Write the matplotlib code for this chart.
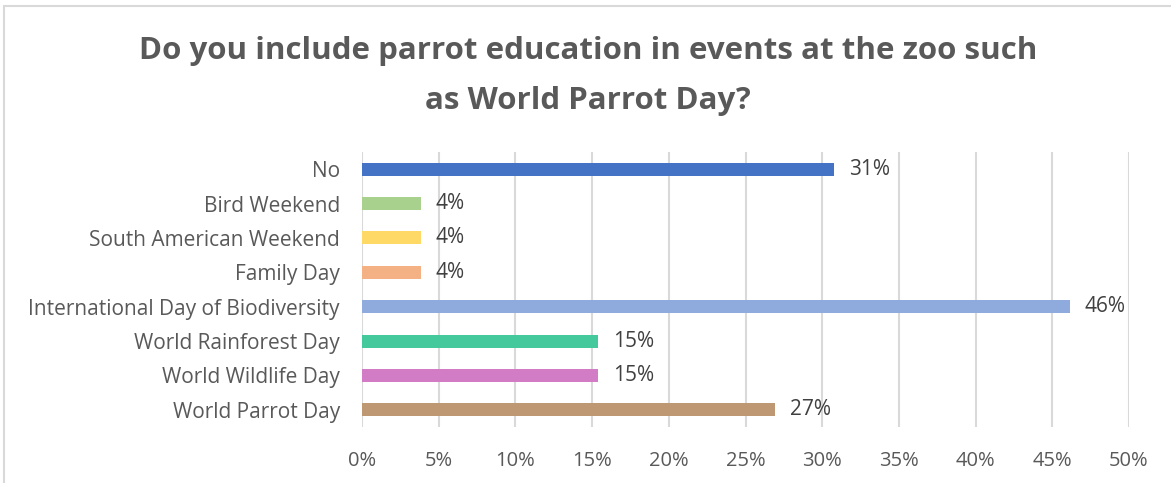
import matplotlib
matplotlib.use("Agg")
import matplotlib.pyplot as plt
from matplotlib.patches import Rectangle

categories = ["World Parrot Day", "World Wildlife Day", "World Rainforest Day",
              "International Day of Biodiversity", "Family Day",
              "South American Weekend", "Bird Weekend", "No"]
values = [7/26, 4/26, 4/26, 12/26, 1/26, 1/26, 1/26, 8/26]
labels = ["27%", "15%", "15%", "46%", "4%", "4%", "4%", "31%"]
colors = ["#BE9872", "#D27CC6", "#43C99B", "#8FAADC", "#F4B183",
          "#FFD966", "#A9D18E", "#4472C4"]
xticks = [0, 0.05, 0.10, 0.15, 0.20, 0.25, 0.30, 0.35, 0.40, 0.45, 0.50]
xticklabels = ["0%", "5%", "10%", "15%", "20%", "25%", "30%", "35%", "40%", "45%", "50%"]
title = "Do you include parrot education in events at the zoo such\nas World Parrot Day?"

plt.rcParams['font.family'] = ['Open Sans', 'DejaVu Sans']

W, H = 1171, 483
fig = plt.figure(figsize=(W/100, H/100), dpi=100)
fig.patch.set_facecolor("white")
# chart border (left and top visible)
fig.add_artist(Rectangle((4/W, -0.1), 1.2, 1 - 6/H + 0.1, transform=fig.transFigure,
                         fill=False, edgecolor="#D9D9D9", linewidth=1.5))

ax = fig.add_axes([362/W, 1 - 427/H, (1129-362)/W, (427-152)/H])
ypos = list(range(len(categories)))
ax.barh(ypos, values, height=0.38, color=colors, zorder=3)
ax.set_ylim(-0.5, len(categories) - 0.5)
ax.set_xlim(0, 0.5)
ax.set_xticks(xticks)
ax.set_xticklabels(xticklabels)
ax.set_yticks(ypos)
ax.set_yticklabels(categories)
ax.tick_params(axis='x', length=0, colors="#595959", labelsize=14.5, pad=17)
ax.tick_params(axis='y', length=0, colors="#595959", labelsize=15, pad=16)
for s in ax.spines.values():
    s.set_visible(False)
ax.grid(axis='x', color="#D9D9D9", linewidth=1.5, zorder=0)
ax.set_axisbelow(True)

for y, v, lab in zip(ypos, values, labels):
    ax.text(v + 0.0095, y, lab, va='center', ha='left', fontsize=15, color="#404040")

fig.text(588/W, 1 - 76/H, title, ha='center', va='center', fontsize=22.5,
         fontweight='bold', color="#595959", linespacing=1.85)

fig.savefig("out.png", dpi=100)
